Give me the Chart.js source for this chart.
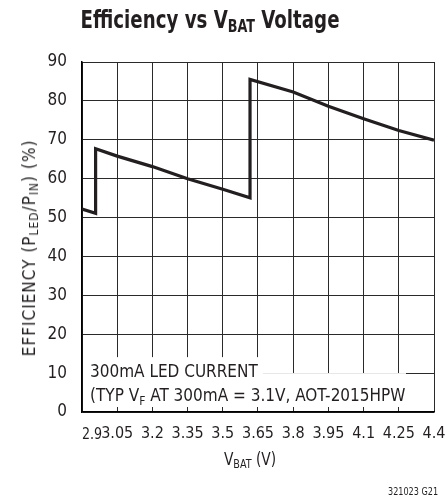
<!DOCTYPE html>
<html>
<head>
<meta charset="utf-8">
<script src="https://cdn.jsdelivr.net/npm/chart.js@4.4.0/dist/chart.umd.min.js"></script>
<style>
  body { margin: 0; background: #fff; }
  #wrap { position: relative; width: 448px; height: 501px; font-family: 'Liberation Sans Narrow', 'DejaVu Sans Condensed', sans-serif; color: #231f20; }
  #wrap div { position: absolute; white-space: nowrap; }
  #title { left: 0; width: 420px; top: 5px; text-align: center; font-size: 25px; font-weight: bold; transform: scaleX(0.81); }
  #title sub, #xtitle sub, #ytitle sub { font-size: 0.7em; vertical-align: -0.25em; }
  #xtitle { left: 150px; width: 200px; top: 449px; text-align: center; font-size: 17px; transform: scaleX(0.9); }
  #ytitle { left: 30px; top: 248px; font-size: 17px; letter-spacing: 1px; transform: translate(-50%, -50%) rotate(-90deg); }
  #note { left: 388px; top: 486px; font-size: 10px; transform: scaleX(0.9); transform-origin: left center; }
</style>
</head>
<body>
<div id="wrap">
  <canvas id="myChart" width="448" height="501"></canvas>
  <div id="title">Efficiency vs V<sub>BAT</sub> Voltage</div>
  <div id="ytitle">EFFICIENCY (P<sub>LED</sub>/P<sub>IN</sub>) (%)</div>
  <div id="xtitle">V<sub>BAT</sub> (V)</div>
  <div id="note">321023 G21</div>
</div>
<script>
 //data
 const vbat = [2.9, 2.958, 2.958, 3.05, 3.2, 3.35, 3.5, 3.616, 3.616, 3.8, 3.95, 4.1, 4.25, 4.4];
 const efficiency = [52.2, 51.1, 67.7, 65.8, 63.1, 60.0, 57.3, 55.1, 85.5, 82.3, 78.6, 75.4, 72.4, 69.9];
 const xTicks = [2.9, 3.05, 3.2, 3.35, 3.5, 3.65, 3.8, 3.95, 4.1, 4.25, 4.4];
 const yTicks = [0, 10, 20, 30, 40, 50, 60, 70, 80, 90];
 const noteLine1 = '300mA LED CURRENT';
 const noteLine2 = ['(TYP V', 'F', ' AT 300mA = 3.1V, AOT-2015HPW'];

 const FONT = "'Liberation Sans Narrow', 'DejaVu Sans Condensed', sans-serif";
 const INK = '#231f20';

 //white box with the test condition, over the grid
 const noteBox = {
     id: 'noteBox',
     beforeDatasetsDraw(chart){
         const ctx = chart.ctx;
         const a = chart.chartArea;
         const y10 = chart.scales.y.getPixelForValue(10);
         ctx.save();
         ctx.fillStyle = '#fff';
         ctx.fillRect(a.left + 1, y10 - 16, 262 - a.left, 18);
         ctx.fillRect(a.left + 1, y10, 405 - a.left, a.bottom - y10 - 5);
         ctx.fillStyle = INK;
         ctx.font = '17px ' + FONT;
         ctx.textBaseline = 'alphabetic';
         ctx.fillText(noteLine1, a.left + 8, y10 + 4);
         let x = a.left + 8;
         const base = y10 + 28;
         ctx.fillText(noteLine2[0], x, base);
         x += ctx.measureText(noteLine2[0]).width;
         ctx.font = '12px ' + FONT;
         ctx.fillText(noteLine2[1], x, base + 4);
         x += ctx.measureText(noteLine2[1]).width;
         ctx.font = '17px ' + FONT;
         ctx.fillText(noteLine2[2], x, base);
         ctx.restore();
     },
     //first x label sits to the right of its grid line
     afterDraw(chart){
         const ctx = chart.ctx;
         const xs = chart.scales.x;
         ctx.save();
         ctx.translate(xs.getPixelForValue(xTicks[0]), chart.chartArea.bottom + 15);
         ctx.scale(0.88, 1);
         ctx.fillStyle = INK;
         ctx.font = '16px ' + FONT;
         ctx.textAlign = 'left';
         ctx.textBaseline = 'top';
         ctx.fillText(String(xTicks[0]), 0, 0);
         ctx.restore();
     }
 };

 const CHART = document.getElementById('myChart');
 const myChart = new Chart(CHART, {
     type: 'line',
     data: {
         datasets: [{
             data: vbat.map((v, i) => ({x: v, y: efficiency[i]})),
             borderColor: INK,
             borderWidth: 3.2,
             borderJoinStyle: 'miter',
             pointRadius: 0,
             tension: 0,
             fill: false
         }]
     },
     options: {
         responsive: false,
         animation: false,
         layout: {padding: {top: 62, right: 14, bottom: 0, left: 0}},
         plugins: {legend: {display: false}, tooltip: {enabled: false}},
         scales: {
             x: {
                 type: 'linear',
                 min: 2.9,
                 max: 4.4,
                 afterBuildTicks: s => { s.ticks = xTicks.map(v => ({value: v})); },
                 afterFit: s => { s.height = 89; s.paddingLeft = 0; s.paddingRight = 0; },
                 ticks: {
                     callback: (v, i) => i === 0 ? '' : String(v),
                     font: {family: FONT, size: 16},
                     color: INK,
                     padding: 12,
                     maxRotation: 0,
                     autoSkip: false
                 },
                 grid: {color: '#2a2a2a', lineWidth: 1, drawTicks: false},
                 border: {color: '#000', width: 1.5}
             },
             y: {
                 min: 0,
                 max: 90,
                 afterBuildTicks: s => { s.ticks = yTicks.map(v => ({value: v})); },
                 afterFit: s => { s.width = 82; s.paddingTop = 0; s.paddingBottom = 0; },
                 ticks: {
                     font: {family: FONT, size: 17},
                     color: INK,
                     padding: 15
                 },
                 grid: {color: '#2a2a2a', lineWidth: 1, drawTicks: false},
                 border: {color: '#000', width: 1.5}
             }
         }
     },
     plugins: [noteBox]
 });
</script>
</body>
</html>
